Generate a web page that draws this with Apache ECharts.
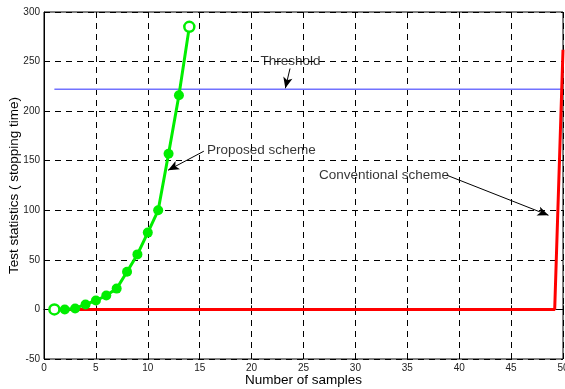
<!DOCTYPE html>
<html>
<head>
<meta charset="utf-8">
<script src="https://cdn.jsdelivr.net/npm/echarts@6/dist/echarts.min.js"></script>
<style>html,body{margin:0;padding:0;background:#fff;}#c{width:565px;height:389px;}</style>
</head>
<body>
<div id="c"></div>
<script>
// Data
const proposedX = [1,2,3,4,5,6,7,8,9,10,11,12,13,14];
const proposedY = [0,0,1,5,9,14,21,38,55.5,77.5,100,157,216,285];
const conventionalX = [1,49.2,50];
const conventionalY = [0,0,262];
const thresholdX = [1,50];
const thresholdY = [222,222];
// annotations: text, text anchor (left, middle) and arrow from -> to (data coords)
const annoText = ['Threshold','Proposed scheme','Conventional scheme'];
const annoAnchor = [[20.85,250],[15.7,160.5],[26.5,135.5]];
const annoFrom = [[23.7,243],[15.4,159.6],[38.8,135.4]];
const annoTo = [[23.25,223],[11.95,140.4],[48.6,95]];

const font = 'Liberation Sans, Arial, sans-serif';
const chart = echarts.init(document.getElementById('c'), null, {renderer:'canvas'});

const zip = (xs, ys) => xs.map((x,i)=>[x, ys[i]]);
const propData = zip(proposedX, proposedY).map((p,i,a)=>{
  if (i===0 || i===a.length-1) return {value:p, itemStyle:{color:'#ffffff', borderColor:'#00ee00', borderWidth:2.5}};
  return {value:p};
});

chart.setOption({
  animation:false,
  grid:{left:44, right:2, top:12, bottom:30, show:true, borderColor:'#000', borderWidth:1,
        containLabel:false, outerBoundsMode:'none'},
  xAxis:{
    type:'value', min:0, max:50, interval:5,
    name:'Number of samples', nameLocation:'middle', nameGap:14, nameMoveOverlap:false,
    nameTextStyle:{fontFamily:font, fontSize:13.5, color:'#000'},
    axisLine:{show:true, lineStyle:{color:'#000', width:1}},
    axisTick:{show:true, inside:true, length:4, lineStyle:{color:'#000'}},
    axisLabel:{fontFamily:font, fontSize:10, color:'#222', margin:4},
    splitLine:{show:true, lineStyle:{color:'#000', type:[6,5], width:1}}
  },
  yAxis:{
    type:'value', min:-50, max:300, interval:50,
    name:'Test statistics ( stopping time)', nameLocation:'middle', nameGap:23, nameRotate:90, nameMoveOverlap:false,
    nameTextStyle:{fontFamily:font, fontSize:13.5, color:'#000'},
    axisLine:{show:true, lineStyle:{color:'#000', width:1}},
    axisTick:{show:true, inside:true, length:4, lineStyle:{color:'#000'}},
    axisLabel:{fontFamily:font, fontSize:10, color:'#222', margin:4},
    splitLine:{show:true, lineStyle:{color:'#000', type:[6,5], width:1}}
  },
  series:[
    {
      type:'line', data:zip(thresholdX, thresholdY), symbol:'none',
      lineStyle:{color:'#7272ff', width:1.5}, z:2
    },
    {
      type:'line', data:zip(conventionalX, conventionalY), symbol:'none',
      lineStyle:{color:'#ff0000', width:3}, z:3
    },
    {
      type:'line', data:propData, symbol:'circle', symbolSize:10,
      itemStyle:{color:'#00ee00'},
      lineStyle:{color:'#00ee00', width:3}, z:4
    },
    {
      type:'scatter', symbolSize:0, silent:true, z:6,
      data:annoText.map((t,i)=>({name:t, value:annoAnchor[i]})),
      label:{show:true, position:'right', distance:0, formatter:p=>p.name,
             fontFamily:font, fontSize:13.5, color:'#000'},
      markLine:{
        silent:true, animation:false,
        symbol:['none','arrow'], symbolSize:[7,11],
        label:{show:false},
        lineStyle:{color:'#000', width:1, type:'solid'},
        data:annoFrom.map((f,i)=>[{coord:f},{coord:annoTo[i]}])
      }
    }
  ]
});
</script>
</body>
</html>
